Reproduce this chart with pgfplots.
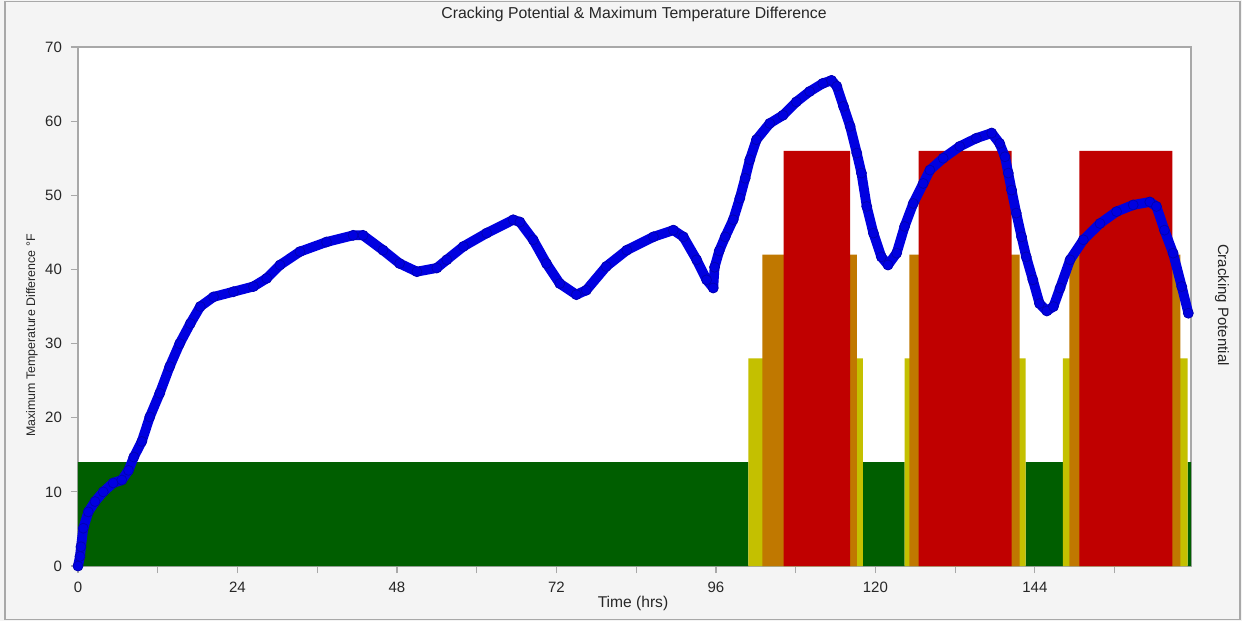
\documentclass[border=0pt]{standalone}
\usepackage{pgfplots}
\pgfplotsset{compat=1.18}
\usepackage{fontspec}
\setmainfont{Liberation Sans}
\definecolor{bgc}{HTML}{F4F4F4}
\definecolor{cgreen}{HTML}{005E00}
\definecolor{cyellow}{HTML}{C4C000}
\definecolor{corange}{HTML}{C07800}
\definecolor{cred}{HTML}{C00000}
\definecolor{cblue}{HTML}{0000E0}
\definecolor{axgray}{HTML}{A8A8A8}
\begin{document}
\begin{tikzpicture}
\fill[bgc] (0,0) rectangle (621pt,310.5pt);
\draw[axgray, line width=0.6pt] (2.5pt,0.6pt) rectangle (620pt,309.6pt);
\begin{axis}[
  at={(39pt,27.5pt)}, anchor=south west,
  scale only axis, width=556.5pt, height=259.5pt,
  xmin=0, xmax=167.5, ymin=0, ymax=70,
  axis background/.style={fill=white},
  axis line style={axgray, line width=0.6pt},
  clip=false,
  tick align=outside, tick pos=left,
  major tick length=3.5pt, minor tick length=3.5pt,
  tick style={axgray, line width=0.6pt},
  xtick={0,24,...,144}, minor xtick={12,36,...,156},
  ytick={0,10,...,70},
  /pgf/number format/assume math mode=true,
  ticklabel style={font=\fontsize{7.5}{9}\selectfont, text=black!85},
  yticklabel style={xshift=-1pt},
  xticklabel style={yshift=-1pt},
]
% cracking potential bars
\addplot[fill=cgreen, draw=none] coordinates {(0,0)(0,14)(100.9,14)(100.9,0)} \closedcycle;
\addplot[fill=cgreen, draw=none] coordinates {(118.1,0)(118.1,14)(124.4,14)(124.4,0)} \closedcycle;
\addplot[fill=cgreen, draw=none] coordinates {(142.6,0)(142.6,14)(148.2,14)(148.2,0)} \closedcycle;
\addplot[fill=cgreen, draw=none] coordinates {(167.0,0)(167.0,14)(167.5,14)(167.5,0)} \closedcycle;
\addplot[fill=cyellow, draw=none] coordinates {(100.9,0)(100.9,28)(118.1,28)(118.1,0)} \closedcycle;
\addplot[fill=cyellow, draw=none] coordinates {(124.4,0)(124.4,28)(142.6,28)(142.6,0)} \closedcycle;
\addplot[fill=cyellow, draw=none] coordinates {(148.2,0)(148.2,28)(167.0,28)(167.0,0)} \closedcycle;
\addplot[fill=corange, draw=none] coordinates {(103.0,0)(103.0,42)(117.2,42)(117.2,0)} \closedcycle;
\addplot[fill=corange, draw=none] coordinates {(125.1,0)(125.1,42)(141.7,42)(141.7,0)} \closedcycle;
\addplot[fill=corange, draw=none] coordinates {(149.2,0)(149.2,42)(165.9,42)(165.9,0)} \closedcycle;
\addplot[fill=cred, draw=none] coordinates {(106.2,0)(106.2,56)(116.2,56)(116.2,0)} \closedcycle;
\addplot[fill=cred, draw=none] coordinates {(126.5,0)(126.5,56)(140.5,56)(140.5,0)} \closedcycle;
\addplot[fill=cred, draw=none] coordinates {(150.7,0)(150.7,56)(164.7,56)(164.7,0)} \closedcycle;
% maximum temperature difference
\addplot[cblue, line width=4.9pt, line cap=round, line join=round,
  mark=*, mark size=2.5pt, mark options={fill=cblue, draw=cblue!80!black, line width=0.4pt}]
coordinates {
(0,0)(0.3,1.3)(0.45,2.6)(0.8,5.1)(1.55,7.3)(2.56,8.7)(3.8,10.0)(5.3,11.2)(6.6,11.6)
(7.6,12.9)(8.4,14.7)(9.6,16.8)(10.8,20.1)(12.3,23.3)(13.8,26.9)(15.3,30.0)(16.9,32.7)
(18.4,35.0)(20.4,36.3)(23.4,37.0)(26.4,37.7)(28.4,38.8)(30.4,40.6)(33.4,42.4)(37.4,43.7)
(41.4,44.6)(42.9,44.6)(45.9,42.6)(48.4,40.8)(51.0,39.7)(54.0,40.2)(55.5,41.3)(58.0,43.1)
(61.5,44.9)(65.5,46.7)(66.5,46.4)(68.5,44.0)(70.5,40.8)(72.5,38.1)(75.0,36.6)(76.5,37.2)
(79.5,40.4)(82.6,42.6)(86.6,44.4)(89.6,45.3)(91.1,44.4)(93.1,41.3)(94.6,38.6)(95.6,37.5)
(95.8,40.3)(96.5,42.5)(97.4,44.4)(98.6,46.7)(99.6,49.6)(100.4,52.3)(101.1,54.8)(102.1,57.5)
(104.1,59.7)(106.1,60.8)(108.1,62.6)(110.1,64.0)(112.1,65.1)(113.4,65.5)(114.2,64.7)
(115.2,62.0)(116.2,59.3)(117.2,55.7)(117.9,53.0)(118.7,48.5)(119.7,44.9)(120.9,41.7)
(121.9,40.6)(123.2,42.2)(124.4,45.8)(125.7,48.9)(127.2,51.6)(128.2,53.4)(130.2,55.0)
(132.7,56.6)(135.2,57.7)(137.5,58.4)(138.7,57.0)(139.5,55.2)(140.0,53.0)(140.5,50.7)
(141.2,47.6)(142.0,44.4)(142.7,41.7)(143.7,38.6)(144.7,35.4)(145.8,34.4)(146.8,35.0)
(147.8,37.5)(149.3,41.3)(151.3,44.0)(153.8,46.2)(156.3,47.8)(158.8,48.7)(161.3,49.1)
(162.3,48.5)(163.5,45.3)(164.8,42.2)(166.1,37.7)(167.1,34.1)
};
\end{axis}
\node[font=\fontsize{7.9}{9}\selectfont, text=black!85] at (317pt,303.5pt) {Cracking Potential \& Maximum Temperature Difference};
\node[font=\fontsize{7.8}{9}\selectfont, text=black!85] at (316.5pt,9pt) {Time (hrs)};
\node[font=\fontsize{6.2}{7}\selectfont, text=black!85, rotate=90] at (16pt,142.75pt) {Maximum Temperature Difference °F};
\node[font=\fontsize{7.5}{9}\selectfont, text=black!85, rotate=-90] at (611pt,158pt) {Cracking Potential};
\end{tikzpicture}
\end{document}
